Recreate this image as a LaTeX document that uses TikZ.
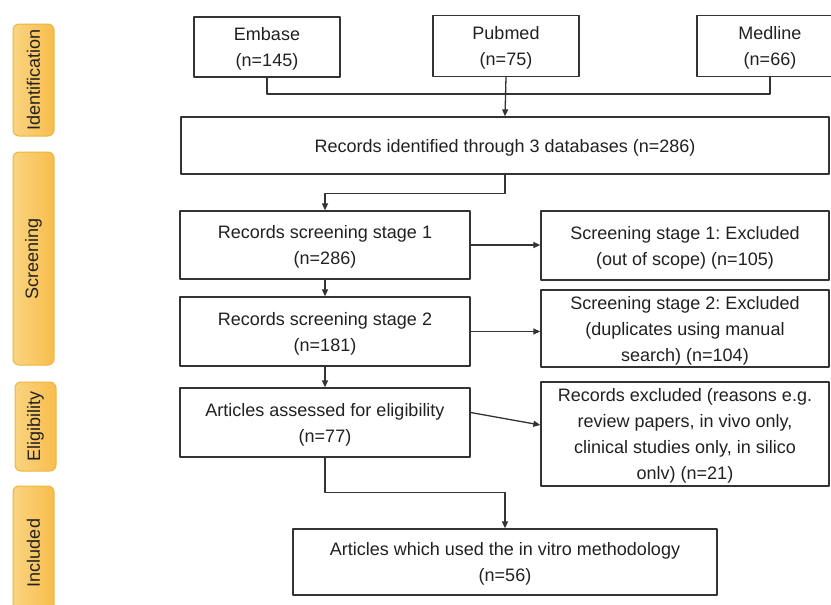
\documentclass[tikz,border=0pt]{standalone}
\usepackage{fontspec}
\setmainfont{Liberation Sans}
\usetikzlibrary{arrows.meta}
\frenchspacing
\definecolor{boxline}{rgb}{0.2,0.2,0.2}
\definecolor{txt}{rgb}{0.13,0.13,0.13}
\definecolor{tabL}{rgb}{0.98,0.83,0.5}
\definecolor{tabR}{rgb}{0.97,0.74,0.3}
\definecolor{tabline}{rgb}{0.93,0.71,0.25}
\tikzset{
  recbox/.style={draw=boxline, line width=1.3pt, fill=white, inner sep=0pt, align=center,
    text=txt, text depth=0pt, font=\fontsize{18}{26}\selectfont},
  phase/.style={draw=tabline, line width=1pt, rounded corners=6pt, left color=tabL, right color=tabR,
    inner sep=0pt, rotate=90, text=txt, font=\fontsize{18}{21}\selectfont},
  arr/.style={draw=boxline, line width=1.3pt, -{Triangle[length=7pt,width=6pt]}},
  link/.style={draw=boxline, line width=1.3pt}
}
\begin{document}
\begin{tikzpicture}[line cap=round,line join=round,x=1pt,y=-1pt]
	\clip (0,0) rectangle (831,605);
	% phases
	\node [phase, minimum width=112pt, minimum height=41pt] (ident) at (33.5,80) {Identification};
	\node [phase, minimum width=213pt, minimum height=41pt] (screen) at (33.5,258.5) {Screening};
	\node [phase, minimum width=89pt, minimum height=41pt] (elig) at (35.5,426.5) {Eligibility};
	\node [phase, minimum width=134pt, minimum height=41pt] (incl) at (33.5,553) {Included};
	% databases
	\node [recbox, minimum width=146pt, minimum height=60pt] (embase) at (267,47) {Embase\\(n=145)};
	\node [recbox, minimum width=146pt, minimum height=61pt] (pubmed) at (506,46) {Pubmed\\(n=75)};
	\node [recbox, minimum width=146pt, minimum height=61pt] (medline) at (770,46) {Medline\\(n=66)};
	\node [recbox, minimum width=648pt, minimum height=57pt] (records) at (505,145.5) {Records identified through 3 databases (n=286)};
	% screening
	\node [recbox, minimum width=290pt, minimum height=68pt] (stage1) at (325,245) {Records screening stage 1\\(n=286)};
	\node [recbox, minimum width=288pt, minimum height=69pt] (excl1) at (685,245.5) {Screening stage 1: Excluded\\(out of scope) (n=105)};
	\node [recbox, minimum width=290pt, minimum height=69pt] (stage2) at (325,331.5) {Records screening stage 2\\(n=181)};
	\node [recbox, minimum width=288pt, minimum height=77pt] (excl2) at (685,328.5) {Screening stage 2: Excluded\\(duplicates using manual\\search) (n=104)};
	% eligibility
	\node [recbox, minimum width=290pt, minimum height=69pt] (assessed) at (325,422.5) {Articles assessed for eligibility\\(n=77)};
	\node [recbox, minimum width=288pt, minimum height=104pt] (excl3) at (685,434) {Records excluded (reasons e.g.\\review papers, in vivo only,\\clinical studies only, in silico\\onlv) (n=21)};
	% included
	\node [recbox, minimum width=424pt, minimum height=66pt] (invitro) at (505,562) {Articles which used the in vitro methodology\\(n=56)};
	% connectors
	\coordinate (join) at (506,94);
	\draw [link] (embase.south) |- (join) -| (medline.south);
	\draw [arr] (pubmed.south) -- (records.north);
	\draw [arr] (records.south) -- ++(0,19) -| (stage1.north);
	\draw [arr] (stage1.east) -- (stage1.east -| excl1.west);
	\draw [arr] (stage1.south) -- (stage2.north);
	\draw [arr] (stage2.east) -- (stage2.east -| excl2.west);
	\draw [arr] (stage2.south) -- (assessed.north);
	\draw [arr] ([yshift=10pt]assessed.east) -- ([yshift=9pt]excl3.west);
	\draw [arr] (assessed.south) -- ++(0,35) -| (invitro.north);
\end{tikzpicture}
\end{document}
